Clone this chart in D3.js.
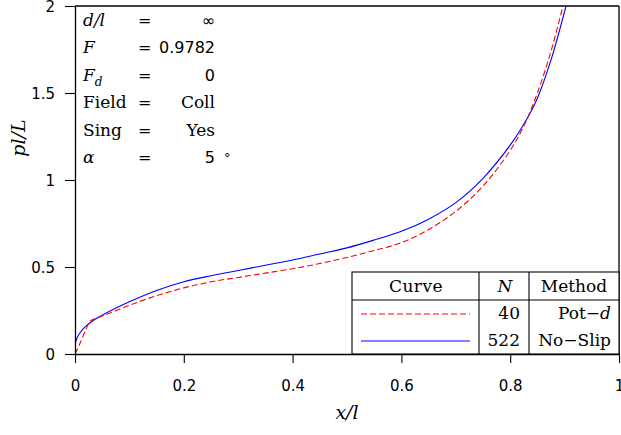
<!DOCTYPE html>
<html>
<head>
<meta charset="utf-8">
<script src="https://cdn.jsdelivr.net/npm/d3@7"></script>
<style>
body { margin: 0; background: #fff; }
svg { display: block; }
</style>
</head>
<body>
<svg id="chart" width="621" height="435"></svg>
<script>
// ---- data ----
const xTicks = [0, 0.2, 0.4, 0.6, 0.8, 1];
const yTicks = [0, 0.5, 1, 1.5, 2];
const xTickLabels = ["0", "0.2", "0.4", "0.6", "0.8", "1"];
const yTickLabels = ["0", "0.5", "1", "1.5", "2"];

// No-Slip, N = 522 (blue solid)
const noSlipX = [0, 0.005, 0.01, 0.02, 0.04, 0.06, 0.1, 0.15, 0.2, 0.25, 0.3, 0.35, 0.4, 0.45, 0.5, 0.55, 0.6, 0.65, 0.7, 0.75, 0.8, 0.825, 0.85, 0.875, 0.9026];
const noSlipY = [0.06, 0.10, 0.125, 0.16, 0.205, 0.24, 0.30, 0.365, 0.415, 0.45, 0.48, 0.51, 0.54, 0.575, 0.61, 0.655, 0.705, 0.775, 0.87, 1.01, 1.20, 1.32, 1.47, 1.69, 2.0];

// Pot-d, N = 40 (red dashed)
const potX = [0, 0.009, 0.02, 0.028, 0.04, 0.06, 0.1, 0.15, 0.2, 0.25, 0.3, 0.35, 0.4, 0.45, 0.5, 0.55, 0.6, 0.65, 0.7, 0.75, 0.8, 0.825, 0.85, 0.875, 0.897];
const potY = [0, 0.06, 0.14, 0.19, 0.205, 0.23, 0.28, 0.335, 0.38, 0.415, 0.44, 0.465, 0.49, 0.52, 0.555, 0.595, 0.64, 0.715, 0.82, 0.965, 1.17, 1.31, 1.50, 1.74, 2.0];

const legendN = ["40", "522"];

// ---- drawing ----
const svg = d3.select("#chart");
const x = d3.scaleLinear().domain([0, 1]).range([75, 619]);
const y = d3.scaleLinear().domain([0, 2]).range([354, 6]);

const sans = "'DejaVu Sans', sans-serif";
const serif = "'DejaVu Serif', serif";

svg.append("clipPath").attr("id", "plotclip")
  .append("rect").attr("x", x(0)).attr("y", y(2)).attr("width", x(1) - x(0)).attr("height", y(0) - y(2));

const line = d3.line().x(d => x(d[0])).y(d => y(d[1])).curve(d3.curveCatmullRom.alpha(0.5));
const blueData = noSlipX.map((v, i) => [v, noSlipY[i]]);
const redData = potX.map((v, i) => [v, potY[i]]);

const g = svg.append("g").attr("clip-path", "url(#plotclip)");
g.append("path").attr("d", line(blueData)).attr("fill", "none").attr("stroke", "#0000ff").attr("stroke-width", 1.1);
g.append("path").attr("d", line(redData)).attr("fill", "none").attr("stroke", "#ff0000").attr("stroke-width", 1.1).attr("stroke-dasharray", "6,3");

// axes
const xAxis = d3.axisBottom(x).tickValues(xTicks).tickFormat((d, i) => xTickLabels[i]).tickSize(9).tickSizeOuter(0);
const yAxis = d3.axisLeft(y).tickValues(yTicks).tickFormat((d, i) => yTickLabels[i]).tickSize(10).tickSizeOuter(0);

const gx = svg.append("g").attr("transform", `translate(0,${y(0)})`).call(xAxis);
gx.select(".domain").attr("stroke", "#000").attr("stroke-width", 1.3);
gx.selectAll(".tick line").attr("stroke", "#000").attr("stroke-width", 1.1);
gx.selectAll(".tick text").attr("y", 26).attr("dy", "0.71em").attr("font-family", sans).attr("font-size", 15).attr("fill", "#000");

const gy = svg.append("g").attr("transform", `translate(${x(0)},0)`).call(yAxis);
gy.select(".domain").attr("stroke", "#000").attr("stroke-width", 1.3);
gy.selectAll(".tick line").attr("stroke", "#000").attr("stroke-width", 1.1);
gy.selectAll(".tick text").attr("x", -20).attr("dy", "0.35em").attr("font-family", sans).attr("font-size", 15).attr("fill", "#000");

svg.append("line").attr("x1", x(0)).attr("x2", x(1)).attr("y1", y(2)).attr("y2", y(2)).attr("stroke", "#000").attr("stroke-width", 1.3);
svg.append("line").attr("x1", x(1)).attr("x2", x(1)).attr("y1", y(2)).attr("y2", y(0)).attr("stroke", "#000").attr("stroke-width", 1.3);

// axis labels
svg.append("text").attr("x", (x(0) + x(1)) / 2).attr("y", 419).attr("text-anchor", "middle")
  .attr("font-family", serif).attr("font-style", "italic").attr("font-size", 19).text("x/l");
svg.append("text").attr("transform", "translate(25,138) rotate(-90)").attr("text-anchor", "middle")
  .attr("font-family", serif).attr("font-style", "italic").attr("font-size", 19).text("pl/L");

// annotation block
const annY = [26, 53, 81, 108, 136, 163];
const ann = svg.append("g").attr("font-size", 17).attr("fill", "#000");
function lab(row, parts) {
  const t = ann.append("text").attr("x", 83).attr("y", annY[row]);
  parts.forEach(p => {
    const s = t.append("tspan").text(p.t).attr("font-family", p.f || serif);
    if (p.i) s.attr("font-style", "italic");
    if (p.dy) s.attr("dy", p.dy);
    if (p.fs) s.attr("font-size", p.fs);
  });
}
lab(0, [{t: "d/l", i: true}]);
lab(1, [{t: "F", i: true}]);
lab(2, [{t: "F", i: true}, {t: "d", i: true, dy: 5, fs: 12}]);
lab(3, [{t: "Field"}]);
lab(4, [{t: "Sing"}]);
lab(5, [{t: "α", i: true}]);
annY.forEach(yy => ann.append("text").attr("x", 138).attr("y", yy).attr("font-family", sans).attr("font-size", 16).text("="));
const annVals = ["∞", "0.9782", "0", "Coll", "Yes", "5"];
const annFonts = [sans, sans, sans, serif, serif, sans];
const annSizes = [16, 16, 16, 17, 17, 16];
annVals.forEach((v, i) => {
  ann.append("text").attr("x", 215).attr("y", annY[i]).attr("text-anchor", "end").attr("font-family", annFonts[i]).attr("font-size", annSizes[i]).text(v);
});
ann.append("text").attr("x", 224).attr("y", annY[5] - 1).attr("font-family", sans).attr("font-size", 13).text("°");

// legend table
const lg = svg.append("g");
const lx0 = 352, lx1 = x(1), ly0 = 272, ly1 = y(0), lyh = 300, lc1 = 479, lc2 = 529;
lg.append("rect").attr("x", lx0).attr("y", ly0).attr("width", lx1 - lx0).attr("height", ly1 - ly0).attr("fill", "#fff").attr("stroke", "#000").attr("stroke-width", 1.1);
lg.append("line").attr("x1", lx0).attr("x2", lx1).attr("y1", lyh).attr("y2", lyh).attr("stroke", "#000").attr("stroke-width", 1.1);
[lc1, lc2].forEach(cx => lg.append("line").attr("x1", cx).attr("x2", cx).attr("y1", ly0).attr("y2", ly1).attr("stroke", "#000").attr("stroke-width", 1.1));

const lt = lg.append("g").attr("font-size", 17).attr("fill", "#000").attr("font-family", serif);
lt.append("text").attr("x", 416).attr("y", 292).attr("text-anchor", "middle").attr("letter-spacing", 0.5).text("Curve");
lt.append("text").attr("x", 505).attr("y", 292).attr("text-anchor", "middle").attr("font-style", "italic").text("N");
lt.append("text").attr("x", 574).attr("y", 292).attr("text-anchor", "middle").text("Method");

const rowY = [319, 346];
const rowLineY = [314, 341];
legendN.forEach((n, i) => lt.append("text").attr("x", 520).attr("y", rowY[i]).attr("text-anchor", "end").text(n));
const m1 = lt.append("text").attr("x", 611).attr("y", rowY[0]).attr("text-anchor", "end");
m1.append("tspan").text("Pot−");
m1.append("tspan").attr("font-style", "italic").text("d");
lt.append("text").attr("x", 611).attr("y", rowY[1]).attr("text-anchor", "end").text("No−Slip");

lg.append("line").attr("x1", 361).attr("x2", 470).attr("y1", rowLineY[0]).attr("y2", rowLineY[0]).attr("stroke", "#ff0000").attr("stroke-width", 1.1).attr("stroke-dasharray", "6,3");
lg.append("line").attr("x1", 361).attr("x2", 470).attr("y1", rowLineY[1]).attr("y2", rowLineY[1]).attr("stroke", "#0000ff").attr("stroke-width", 1.1);
</script>
</body>
</html>
